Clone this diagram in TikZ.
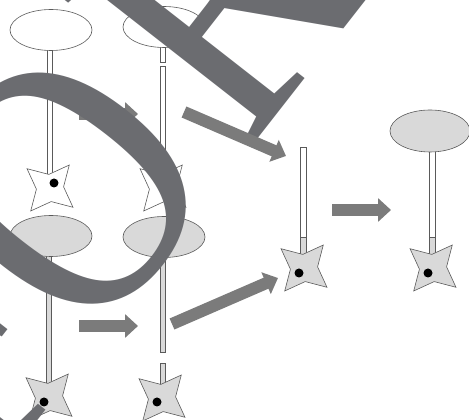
\documentclass[tikz,border=0pt]{standalone}
\usepackage{fontspec}
\newfontfamily\markfont{Liberation Serif}
\usetikzlibrary{shapes.geometric,arrows.meta}
\definecolor{linegray}{HTML}{5A5A5A}
\definecolor{cellgray}{HTML}{D9D9D9}
\definecolor{arrowgray}{HTML}{7B7B7B}
\definecolor{markgray}{HTML}{6B6C70}
\tikzset{
  head/.style={ellipse, draw=linegray, line width=0.6pt, minimum width=82pt, minimum height=41pt, inner sep=0pt},
  soma/.style={star, star points=4, star point ratio=2.2, minimum size=60pt, inner sep=0pt, rotate=50, draw=linegray, line width=0.6pt},
  stem/.style={draw=linegray, line width=0.6pt},
  nucleus/.style={circle, fill=black, minimum size=9pt, inner sep=0pt},
  move/.style={draw=arrowgray, line width=12pt, -{Triangle[length=13pt, width=23pt]}},
  stamp/.style={inner sep=0pt, text=markgray, font=\markfont\fontsize{370}{370}\selectfont}
}
\begin{document}
\begin{tikzpicture}[x=1pt, y=1pt]
  \useasboundingbox (0, 0) rectangle (469, 420);
  \clip (0, 0) rectangle (469, 420);

  % stems first, heads and somata drawn over their ends
  \draw[stem, fill=white](47, 390) rectangle (52.5, 232);
  \draw[stem, fill=white](160.25, 393) rectangle (165.75, 358);
  \draw[stem, fill=white](160.25, 354) rectangle (165.75, 232);
  \draw[stem, fill=cellgray](46.25, 184) rectangle (51.75, 23);
  \draw[stem, fill=cellgray](160.25, 183) rectangle (165.75, 68);
  \draw[stem, fill=cellgray](160.25, 57) rectangle (165.75, 22);
  \draw[stem, fill=white](300, 273) rectangle (306, 183);
  \draw[stem, fill=cellgray](300, 183) rectangle (306, 152);
  \draw[stem, fill=white](429, 289) rectangle (435, 183);
  \draw[stem, fill=cellgray](429, 183) rectangle (435, 152);

  \node[head, fill=white] (e1) at (51, 390){};
  \node[head, fill=white] (e2) at (164, 393){};
  \node[head, fill=cellgray] (e3) at (51, 184){};
  \node[head, fill=cellgray] (e4) at (164, 183){};
  \node[head, fill=cellgray, minimum width=80pt, minimum height=42pt] (e5) at (430, 289){};

  \node[soma, fill=white] (s1) at (50, 232){};
  \node[soma, fill=white] (s2) at (163, 232){};
  \node[soma, fill=cellgray] (s3) at (49, 23){};
  \node[soma, fill=cellgray] (s4) at (162, 22){};
  \node[soma, fill=cellgray] (s5) at (304, 152){};
  \node[soma, fill=cellgray] (s6) at (433, 152){};

  \node[nucleus] (n1) at (54, 237){};
  \node[nucleus] (n2) at (167, 237){};
  \node[nucleus] (n3) at (44, 18){};
  \node[nucleus] (n4) at (157, 18){};
  \node[nucleus] (n5) at (299, 147){};
  \node[nucleus] (n6) at (428, 147){};

  \coordinate (a0s) at (79, 306);  \coordinate (a0e) at (138, 306);
  \coordinate (a1s) at (79, 94);   \coordinate (a1e) at (138, 94);
  \coordinate (a2s) at (172, 96);  \coordinate (a2e) at (278, 142);
  \coordinate (a3s) at (184, 308); \coordinate (a3e) at (286, 264);
  \coordinate (a4s) at (332, 210); \coordinate (a4e) at (391, 210);
  \draw[move](a0s) -- (a0e);
  \draw[move](a1s) -- (a1e);
  \draw[move](a2s) -- (a2e);
  \draw[move](a4s) -- (a4e);

  \node[stamp, anchor=base west, rotate=52, xscale=0.84] (stamp) at (-15, -68){FO\kern32pt R};

  \draw[move](a3s) -- (a3e);
\end{tikzpicture}
\end{document}
